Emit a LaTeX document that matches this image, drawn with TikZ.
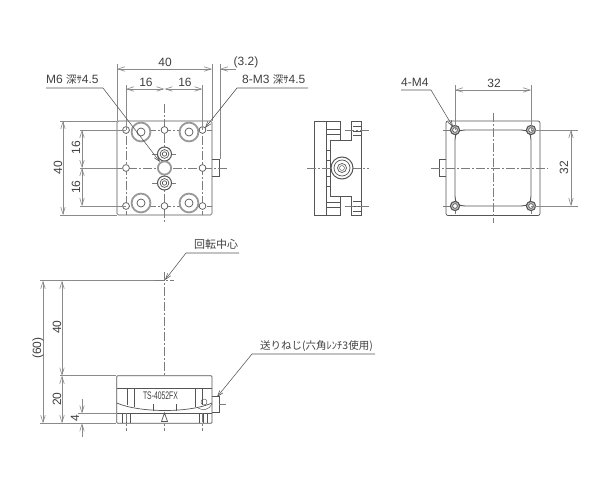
\documentclass[tikz,border=0pt]{standalone}
\usepackage{fontspec}
\setmainfont{Liberation Sans}
\newfontfamily\cjk{Noto Sans CJK JP}
\usetikzlibrary{arrows.meta}
\definecolor{ink}{HTML}{555555}
\definecolor{dimc}{HTML}{8A8A8A}
\definecolor{ring}{HTML}{9A9A9A}
\tikzset{
 part/.style={draw=ink,line width=.7pt},
 thin part/.style={draw=ink,line width=.45pt},
 dimline/.style={draw=dimc,line width=.6pt},
 dimarrow/.style={dimline,{Straight Barb[length=7pt,width=4.5pt]}-{Straight Barb[length=7pt,width=4.5pt]}},
 onearrow/.style={dimline,-{Straight Barb[length=7pt,width=4.5pt]}},
 leader/.style={draw=ink,line width=.55pt,-{Straight Barb[length=6pt,width=4pt]}},
 centre/.style={draw=dimc!90!black,line width=.5pt,dash pattern=on 9pt off 2pt on 2pt off 2pt},
 lbl/.style={inner sep=0pt,text=black!75,font=\fontsize{12}{14}\selectfont},
 lblr/.style={lbl,rotate=90},
 jp/.style={inner sep=0pt,text=black!75,font=\cjk\fontsize{11}{13}\selectfont},
 jps/.style={inner sep=0pt,text=black!75,font=\cjk\fontsize{10.5}{13}\selectfont},
 ringc/.style={draw=ring,line width=1.8pt},
}
\begin{document}
\begin{tikzpicture}[x=1pt,y=-1pt]
\useasboundingbox (0,0) rectangle (600,478);
\fill[white] (0,0) rectangle (600,478);

% ---------- top view ----------
\draw[part,rounded corners=1.5pt] (117,121) rectangle (212,215);
\draw[part] (212,159) -- (219,159) -- (219,176) -- (212,176);
\foreach \y in {130,206} \draw[centre] (117,\y) -- (212,\y);
\draw[centre] (113,168) -- (227,168);
\foreach \x in {126,202.5} \draw[centre] (\x,121) -- (\x,215);
\draw[centre] (164.5,104) -- (164.5,223);
\draw[centre] (152,154) -- (177,154);
\draw[centre] (152,183) -- (177,183);
\foreach \x in {126,164.5,202.5} \foreach \y in {130,206}
  \draw[part,fill=white] (\x,\y) circle (3.4pt);
\foreach \x in {126,202.5} \draw[part,fill=white] (\x,168) circle (3.4pt);
\foreach \x/\y in {141/132,189/132,141/203,189/203}{
  \draw[ringc,fill=white] (\x,\y) circle (9.4pt);
  \draw[part] (\x,\y) circle (4pt);
}
\foreach \y in {154,183}{
  \draw[draw=ink,line width=1pt,fill=white] (164.5,\y) circle (7pt);
  \draw[part] (164.5,\y) circle (4.4pt);
  \draw[part] (164.5,\y) circle (2.2pt);
}
\draw[ringc,fill=white] (164.5,168) circle (6.6pt);

% extension lines
\draw[dimline] (117,121) -- (117,64);
\draw[dimline] (212,121) -- (212,64);
\draw[dimline] (220,159) -- (220,64);
\draw[dimline] (126,130) -- (126,85);
\draw[dimline] (202.5,130) -- (202.5,85);
\draw[dimline] (117,121) -- (60,121);
\draw[dimline] (117,215) -- (60,215);
\draw[dimline] (126,130) -- (80,130);
\draw[dimline] (126,206) -- (80,206);
\draw[dimline] (117,168) -- (80,168);

% dimensions
\coordinate (t40a) at (117,69); \coordinate (t40b) at (212,69);
\draw[dimarrow] (t40a) -- (t40b);
\coordinate (t32a) at (236,69); \coordinate (t32b) at (220,69);
\draw[onearrow] (t32a) -- (t32b);
\coordinate (t16a) at (126,89); \coordinate (t16m) at (164.5,89); \coordinate (t16b) at (202.5,89);
\draw[dimarrow] (t16a) -- (t16m);
\draw[dimarrow] (t16m) -- (t16b);
\coordinate (l40a) at (63,121); \coordinate (l40b) at (63,215);
\draw[dimarrow] (l40a) -- (l40b);
\coordinate (l16a) at (82,130); \coordinate (l16m) at (82,168); \coordinate (l16b) at (82,206);
\draw[dimarrow] (l16a) -- (l16m);
\draw[dimarrow] (l16m) -- (l16b);
\node[lbl] (n40top) at (165,62) {40};
\node[lbl] (n16a) at (146,82) {16};
\node[lbl] (n16b) at (185,82) {16};
\node[lbl] (n32top) at (246,62) {(3.2)};
\node[lblr] (n40l) at (58,168) {40};
\node[lblr] (n16c) at (76,148) {16};
\node[lblr] (n16d) at (76,187) {16};

% leaders top view
\node[lbl,anchor=west] (m6) at (46,80) {M6 {\cjk\fontsize{10.5}{12}\selectfont 深ｻ}4.5};
\coordinate (m6a) at (46,88); \coordinate (m6b) at (103,88); \coordinate (m6c) at (160,162);
\draw[leader] (m6a) -- (m6b) -- (m6c);
\node[lbl,anchor=west] (m3) at (242,80) {8-M3 {\cjk\fontsize{10.5}{12}\selectfont 深ｻ}4.5};
\coordinate (m3a) at (308,88); \coordinate (m3b) at (237,88); \coordinate (m3c) at (205,128);
\draw[leader] (m3a) -- (m3b) -- (m3c);

% ---------- side view ----------
\draw[part] (314,121) rectangle (326,215.5);
\draw[part] (326,121) -- (340.5,121) -- (340.5,140) -- (330,140);
\draw[part] (326,215.5) -- (340.5,215.5) -- (340.5,196) -- (330,196);
\draw[part] (330,140) -- (330,196);
\draw[part] (340.5,140) -- (351.5,140) -- (351.5,121) -- (361.5,121) -- (361.5,215.5) -- (351.5,215.5) -- (351.5,196) -- (340.5,196);
\draw[thin part] (326,129) -- (340.5,129);
\draw[thin part] (326,134) -- (340.5,134);
\draw[thin part] (326,202) -- (340.5,202);
\draw[thin part] (326,207) -- (340.5,207);
\draw[thin part] (353,126) -- (361.5,126) (353,131) -- (361.5,131) (353,135) -- (361.5,135);
\draw[thin part] (353,201) -- (361.5,201) (353,206) -- (361.5,206) (353,211) -- (361.5,211);
\draw[thin part] (326,150) -- (330,150) (326,160) -- (330,160) (326,176) -- (330,176) (326,186) -- (330,186);
\draw[centre] (345,130) -- (369,130);
\draw[centre] (345,206) -- (369,206);
\draw[centre] (307,168) -- (369,168);
\draw[draw=ink,line width=1pt,fill=white] (342,168) circle (11pt);
\draw[part] (342,168) circle (8pt);
\draw[part] (342,168) circle (4.5pt);
\draw[thin part] (342,168) circle (2.5pt);

% ---------- right view ----------
\draw[part,rounded corners=2pt] (446,121) rectangle (540,215.5);
\draw[part] (446,159) -- (439,159) -- (439,176) -- (446,176);
\draw[draw=ink,line width=.9pt] (465,130) -- (521,130) .. controls (528,130) and (531,133) .. (531,140)
  -- (531,196) .. controls (531,203) and (528,206) .. (521,206)
  -- (465,206) .. controls (458,206) and (455,203) .. (455,196)
  -- (455,140) .. controls (455,133) and (458,130) .. (465,130) -- cycle;
\draw[centre] (431,168) -- (548,168);
\draw[centre] (493,113) -- (493,223);
\foreach \y in {130,206} \draw[centre] (443,\y) -- (451,\y) (535,\y) -- (545,\y);
\foreach \x in {455,531} \draw[centre] (\x,122) -- (\x,126) (\x,210) -- (\x,214);
\foreach \x in {455,531} \foreach \y in {130,206}{
  \draw[draw=ink,line width=1.1pt,fill=ring!50] (\x,\y) circle (4.6pt);
  \draw[part,fill=white] (\x,\y) circle (2.4pt);
}
\draw[dimline] (455,130) -- (455,85);
\draw[dimline] (531,130) -- (531,85);
\draw[dimline] (531,130) -- (578,130);
\draw[dimline] (531,206) -- (578,206);
\coordinate (r32a) at (455,90); \coordinate (r32b) at (531,90);
\draw[dimarrow] (r32a) -- (r32b);
\coordinate (r32c) at (571,130); \coordinate (r32d) at (571,206);
\draw[dimarrow] (r32c) -- (r32d);
\node[lbl] (n32a) at (494,83) {32};
\node[lblr] (n32b) at (564,168) {32};
\node[lbl,anchor=west] (m4) at (401,82) {4-M4};
\coordinate (m4a) at (401,90); \coordinate (m4b) at (431,90); \coordinate (m4c) at (453,127);
\draw[leader] (m4a) -- (m4b) -- (m4c);

% ---------- front view ----------
\draw[part,rounded corners=1pt] (116.7,375.7) rectangle (212,423.3);
\draw[part] (116.7,388) -- (212,388);
\draw[part] (116.7,413.5) -- (212,413.5);
\draw[part] (127,388) -- (127,405) (134,388) -- (134,407) (195,388) -- (195,407) (202,388) -- (202,405);
\draw[part] (116.7,403) .. controls (140,413) and (190,413) .. (212,403);
\draw[thin part] (153,404) -- (153,411) (176,404) -- (176,411);
\draw[thin part] (204,402) circle (3pt);
\draw[thin part] (198,408) .. controls (203,411) and (209,410) .. (212,404);
\foreach \x in {122,126,130,199,203,207} \draw[thin part] (\x,413.5) -- (\x,423.3);
\draw[part] (212,396) -- (219,396) -- (219,412) -- (212,412);
\draw[centre] (219,404) -- (226,404);
\draw[centre] (126,413) -- (126,431);
\draw[centre] (202.5,413) -- (202.5,431);
\draw[centre] (164.5,272) -- (164.5,375.7);
\draw[centre] (164.5,413) -- (164.5,431);
\draw[centre] (155,280.7) -- (174,280.7);
\draw[part,fill=white] (164.5,413) -- (161.5,421.5) -- (167.5,421.5) -- cycle;
\node[inner sep=0pt,text=black!75,font=\fontsize{11}{13}\selectfont,xscale=.62] (model) at (160.5,395.5) {TS-4052FX};

\draw[dimline] (40,280.7) -- (155,280.7);
\draw[dimline] (40,423.3) -- (116,423.3);
\draw[dimline] (60,375.7) -- (116,375.7);
\draw[dimline] (78,413.5) -- (116,413.5);
\coordinate (f60a) at (43,280.7); \coordinate (f60b) at (43,423.3);
\draw[dimarrow] (f60a) -- (f60b);
\coordinate (f40a) at (62,280.7); \coordinate (f40b) at (62,375.7);
\draw[dimarrow] (f40a) -- (f40b);
\coordinate (f20a) at (62,375.7); \coordinate (f20b) at (62,423.3);
\draw[dimarrow] (f20a) -- (f20b);
\coordinate (f4a) at (82,399); \coordinate (f4b) at (82,413.5);
\draw[onearrow] (f4a) -- (f4b);
\coordinate (f4c) at (82,437); \coordinate (f4d) at (82,423.3);
\draw[onearrow] (f4c) -- (f4d);
\node[lblr] (n60) at (38,348) {(60)};
\node[lblr] (nf40) at (57,327) {40};
\node[lblr] (nf20) at (57,399) {20};
\node[lblr] (nf4) at (75,418) {4};

\node[jp] (rot) at (216,244) {回転中心};
\coordinate (rota) at (239,253); \coordinate (rotb) at (186,253); \coordinate (rotc) at (165,280);
\draw[leader] (rota) -- (rotb) -- (rotc);
\node[jps] (feed) at (316.5,346) {送りねじ(六角ﾚﾝﾁ3使用)};
\coordinate (feeda) at (375,354); \coordinate (feedb) at (252,354); \coordinate (feedc) at (217,397);
\draw[leader] (feeda) -- (feedb) -- (feedc);
\end{tikzpicture}
\end{document}
